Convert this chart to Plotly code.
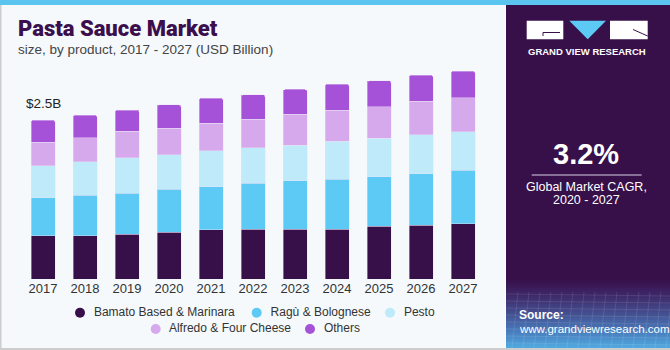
import plotly.graph_objects as go

# ---------------- data ----------------
years = ["2017", "2018", "2019", "2020", "2021", "2022", "2023", "2024", "2025", "2026", "2027"]
bamato = [0.684, 0.684, 0.711, 0.738, 0.774, 0.789, 0.789, 0.789, 0.832, 0.852, 0.873]
ragu = [0.596, 0.639, 0.643, 0.675, 0.680, 0.717, 0.758, 0.780, 0.778, 0.805, 0.838]
pesto = [0.502, 0.518, 0.554, 0.538, 0.560, 0.559, 0.560, 0.601, 0.607, 0.612, 0.606]
alfredo = [0.367, 0.381, 0.419, 0.419, 0.435, 0.446, 0.482, 0.482, 0.491, 0.524, 0.529]
others = [0.350, 0.356, 0.330, 0.366, 0.392, 0.386, 0.392, 0.408, 0.408, 0.408, 0.419]
series_names = ["Bamato Based & Marinara", "Ragù & Bolognese", "Pesto",
                "Alfredo & Four Cheese", "Others"]
first_label_value = 2.5
cagr_text = "3.2%"

# ---------------- styling ----------------
W, H = 670, 350
colors = ["#37104A", "#5CCAF5", "#BEEAFA", "#D5A9EC", "#A552D9"]
DARK = "#37104A"
FONT = "Liberation Sans, Arial, sans-serif"


def px(x):
    return x / W


def py(y):
    return 1 - y / H


fig = go.Figure()

series = [bamato, ragu, pesto, alfredo, others]
for name, vals, col in zip(series_names, series, colors):
    fig.add_trace(go.Bar(
        x=years, y=vals, name=name, marker_color=col,
        marker_line=dict(width=0.6, color="rgba(235,225,245,0.7)"),
        showlegend=False, hoverinfo="skip"))

# legend built on a pixel-space overlay axis
leg_x = [80, 256.7, 390, 155.7, 310]
leg_y = [312.7, 312.7, 312.7, 329, 329]
for name, col, lx, ly in zip(series_names, colors, leg_x, leg_y):
    fig.add_trace(go.Scatter(
        x=[lx], y=[ly], mode="markers+text", text=["  " + name],
        textposition="middle right",
        textfont=dict(size=12, color="#333333", family=FONT),
        marker=dict(size=10, color=col), xaxis="x2", yaxis="y2",
        showlegend=False, hoverinfo="skip", cliponaxis=False))

# axis geometry (pixels)
bar_step = 42
first_center = 43
x_left = first_center - bar_step / 2
x_right = x_left + bar_step * len(years)
baseline = 279.3
y_max = 3.5
px_per_unit = 63.72
y_top = baseline - y_max * px_per_unit

shapes = []
# background panels
shapes.append(dict(type="rect", xref="paper", yref="paper", x0=px(0), x1=px(505),
                   y0=py(350), y1=py(0), fillcolor="#F5F9FC", line_width=0, layer="below"))
shapes.append(dict(type="rect", xref="paper", yref="paper", x0=px(0), x1=px(1.5),
                   y0=py(350), y1=py(0), fillcolor="#CDCDCD", line_width=0, layer="below"))
shapes.append(dict(type="rect", xref="paper", yref="paper", x0=px(506), x1=px(670),
                   y0=py(350), y1=py(0), fillcolor=DARK, line_width=0, layer="below"))

# gradient at the bottom of the dark panel
stops = [(280, (55, 16, 74)), (295, (62, 40, 105)), (312, (67, 75, 140)),
         (330, (72, 120, 185)), (348, (80, 170, 225))]
n_strips = 34
g0, g1 = stops[0][0], stops[-1][0]
for i in range(n_strips):
    ya = g0 + (g1 - g0) * i / n_strips
    yb = g0 + (g1 - g0) * (i + 1) / n_strips
    ym = (ya + yb) / 2
    for (s0, c0), (s1, c1) in zip(stops[:-1], stops[1:]):
        if s0 <= ym <= s1:
            t = (ym - s0) / (s1 - s0)
            c = tuple(int(round(a + (b - a) * t)) for a, b in zip(c0, c1))
            break
    shapes.append(dict(type="rect", xref="paper", yref="paper", x0=px(506), x1=px(670),
                       y0=py(yb + 0.5), y1=py(ya), fillcolor="rgb(%d,%d,%d)" % c,
                       line_width=0, layer="below"))
# faint grid texture
for gx in range(512, 670, 11):
    shapes.append(dict(type="line", xref="paper", yref="paper", x0=px(gx), x1=px(gx + 6),
                       y0=py(348), y1=py(292), line=dict(color="rgba(255,255,255,0.10)", width=1),
                       layer="below"))
for gy in range(294, 348, 7):
    shapes.append(dict(type="line", xref="paper", yref="paper", x0=px(506), x1=px(670),
                       y0=py(gy), y1=py(gy + 2), line=dict(color="rgba(255,255,255,0.10)", width=1),
                       layer="below"))

# bottom grey line and top cyan strip
shapes.append(dict(type="rect", xref="paper", yref="paper", x0=px(0), x1=px(670),
                   y0=py(350), y1=py(348), fillcolor="#CDCDCD", line_width=0, layer="below"))
shapes.append(dict(type="rect", xref="paper", yref="paper", x0=px(0), x1=px(670),
                   y0=py(5), y1=py(0), fillcolor="#5BC5F0", line_width=0, layer="below"))

# logo
shapes.append(dict(type="rect", xref="paper", yref="paper", x0=px(526.7), x1=px(563.3),
                   y0=py(39.3), y1=py(20.7), fillcolor="white", line_width=0))
shapes.append(dict(type="path", xref="paper", yref="paper",
                   path="M %f,%f L %f,%f L %f,%f Z" % (px(569.3), py(20.7), px(606), py(20.7),
                                                      px(587.7), py(39.3)),
                   fillcolor="#5CCAF5", line_width=0))
shapes.append(dict(type="rect", xref="paper", yref="paper", x0=px(610), x1=px(647.7),
                   y0=py(39.3), y1=py(20.7), fillcolor="white", line_width=0))
shapes.append(dict(type="line", xref="paper", yref="paper", x0=px(543), x1=px(560),
                   y0=py(32.5), y1=py(32.5), line=dict(color=DARK, width=1)))
shapes.append(dict(type="line", xref="paper", yref="paper", x0=px(543), x1=px(543),
                   y0=py(32.5), y1=py(36), line=dict(color=DARK, width=1)))
shapes.append(dict(type="line", xref="paper", yref="paper", x0=px(633), x1=px(647.7),
                   y0=py(29.5), y1=py(36), line=dict(color=DARK, width=1)))
# CAGR divider
shapes.append(dict(type="line", xref="paper", yref="paper", x0=px(531.7), x1=px(641.7),
                   y0=py(175), y1=py(175), line=dict(color="#D8D0E0", width=1)))

annotations = [
    dict(text="Pasta Sauce Market", x=px(16), y=py(29), xref="paper", yref="paper",
         xanchor="left", yanchor="middle", showarrow=False,
         font=dict(size=22, color="#3B0F4D", family="Roboto, Arial Black, sans-serif", weight=900)),
    dict(text="size, by product, 2017 - 2027 (USD Billion)", x=px(16), y=py(49),
         xref="paper", yref="paper", xanchor="left", yanchor="middle", showarrow=False,
         font=dict(size=13.5, color="#444444", family=FONT)),
    dict(text="$%.1fB" % first_label_value, x=0, y=first_label_value, xref="x", yref="y",
         xanchor="center", yanchor="bottom", yshift=7, showarrow=False,
         font=dict(size=13.5, color="#222222", family=FONT)),
    dict(text="GRAND VIEW RESEARCH", x=px(587.2), y=py(51.7), xref="paper", yref="paper",
         xanchor="center", yanchor="middle", showarrow=False,
         font=dict(size=9.5, color="white", family=FONT, weight="bold")),
    dict(text=cagr_text, x=px(586), y=py(154), xref="paper", yref="paper",
         xanchor="center", yanchor="middle", showarrow=False,
         font=dict(size=29, color="white", family=FONT, weight="bold")),
    dict(text="Global Market CAGR,", x=px(586), y=py(186.7), xref="paper", yref="paper",
         xanchor="center", yanchor="middle", showarrow=False,
         font=dict(size=12.5, color="white", family=FONT)),
    dict(text="2020 - 2027", x=px(586), y=py(200), xref="paper", yref="paper",
         xanchor="center", yanchor="middle", showarrow=False,
         font=dict(size=12.5, color="white", family=FONT)),
    dict(text="<b>Source:</b>", x=px(517), y=py(315), xref="paper", yref="paper",
         xanchor="left", yanchor="middle", showarrow=False,
         font=dict(size=12, color="white", family=FONT)),
    dict(text="www.grandviewresearch.com", x=px(517), y=py(329.3), xref="paper", yref="paper",
         xanchor="left", yanchor="middle", showarrow=False,
         font=dict(size=11.5, color="white", family=FONT)),
]

fig.update_layout(
    width=W, height=H,
    margin=dict(l=0, r=0, t=0, b=0),
    paper_bgcolor="white",
    plot_bgcolor="rgba(0,0,0,0)",
    barmode="stack",
    bargap=1 - 24 / 42,
    barcornerradius=2,
    showlegend=False,
    shapes=shapes,
    annotations=annotations,
    xaxis=dict(domain=[px(x_left), px(x_right)], type="category",
               range=[-0.5, len(years) - 0.5], showgrid=False, zeroline=False,
               showline=False, ticks="", tickfont=dict(size=13, color="#333333", family=FONT),
               fixedrange=True),
    yaxis=dict(domain=[py(baseline), py(y_top)], range=[0, y_max], visible=False,
               fixedrange=True),
    xaxis2=dict(domain=[0, 1], range=[0, W], visible=False, anchor="y2", fixedrange=True),
    yaxis2=dict(domain=[0, 1], range=[H, 0], visible=False, anchor="x2", fixedrange=True),
)

fig.write_html("out.html")
